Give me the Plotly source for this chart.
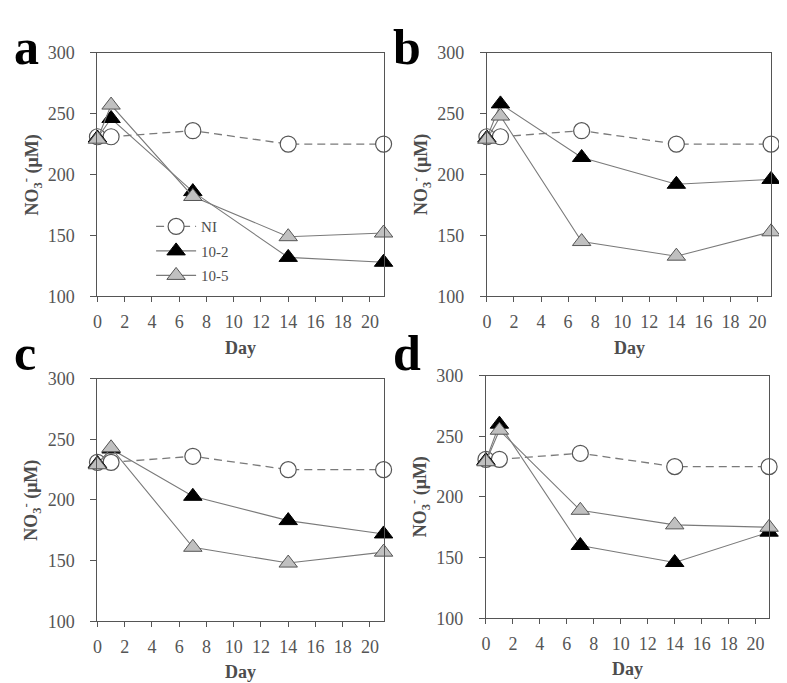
import plotly.graph_objects as go

# Page placement calibration (page px -> figure px), measured from previous renders.
X_OFF = 11
Y_OFF = 18.4
Y_SCALE = 0.968
W, H = 775, 684

days = [0, 1, 7, 14, 21]
series_names = ["NI", "10-2", "10-5"]

ni_a = [231, 231, 236, 225, 225]
r2_a = [230, 246, 186, 132, 128]
r5_a = [229, 257, 182, 149, 152]

ni_b = [231, 231, 236, 225, 225]
r2_b = [230, 258, 214, 192, 196]
r5_b = [229, 248, 145, 133, 153]

ni_c = [231, 231, 236, 225, 225]
r2_c = [230, 242, 203, 183, 172]
r5_c = [229, 243, 161, 148, 157]

ni_d = [231, 231, 236, 225, 225]
r2_d = [230, 260, 160, 146, 171]
r5_d = [229, 255, 189, 177, 175]

panel_letters = ["a", "b", "c", "d"]
x_ticks = list(range(0, 21, 2))
y_ticks = [100, 150, 200, 250, 300]

panels = [
    (ni_a, r2_a, r5_a),
    (ni_b, r2_b, r5_b),
    (ni_c, r2_c, r5_c),
    (ni_d, r2_d, r5_d),
]

# target pixel boxes on the page (left, right, top, bottom)
boxes = [
    (96, 384, 53, 296),
    (488, 774, 53, 296),
    (96, 384, 378, 620),
    (487, 772, 375, 617),
]


def px(x):
    return (x - X_OFF) / W


def py(y):
    return 1 - ((y - Y_OFF) / Y_SCALE) / H


FONT = "Liberation Serif"
LINE = "#7a7a7a"
EDGE = "#555555"

fig = go.Figure()

for i, (ni, r2, r5) in enumerate(panels):
    xa = "x" if i == 0 else f"x{i+1}"
    ya = "y" if i == 0 else f"y{i+1}"
    show = i == 0
    fig.add_trace(go.Scatter(
        x=days, y=ni, mode="lines+markers", name=series_names[0],
        legendgroup="ni", showlegend=show, cliponaxis=False,
        line=dict(color=LINE, width=1.3, dash="8px,5px"),
        marker=dict(symbol="circle", size=16, color="white",
                    line=dict(color=EDGE, width=1.2)),
        xaxis=xa, yaxis=ya))
    fig.add_trace(go.Scatter(
        x=days, y=r2, mode="lines+markers", name=series_names[1],
        legendgroup="r2", showlegend=show, cliponaxis=False,
        line=dict(color=LINE, width=1.1),
        marker=dict(symbol="triangle-up", size=16, color="black",
                    line=dict(color="black", width=1)),
        xaxis=xa, yaxis=ya))
    fig.add_trace(go.Scatter(
        x=days, y=r5, mode="lines+markers", name=series_names[2],
        legendgroup="r5", showlegend=show, cliponaxis=False,
        line=dict(color=LINE, width=1.1),
        marker=dict(symbol="triangle-up", size=16, color="#c0c0c0",
                    line=dict(color=EDGE, width=1)),
        xaxis=xa, yaxis=ya))

layout = dict(
    width=W, height=H,
    margin=dict(l=0, r=0, t=0, b=0),
    paper_bgcolor="white", plot_bgcolor="white",
    font=dict(family=FONT, color="#4d4d4d"),
    legend=dict(x=px(150), y=py(210), xanchor="left", yanchor="top",
                font=dict(family=FONT, size=15, color="#4d4d4d"),
                bgcolor="rgba(0,0,0,0)", traceorder="grouped",
                tracegroupgap=2, itemwidth=40),
    showlegend=True,
)

annotations = []
for i, (l, r, t, b) in enumerate(boxes):
    sx = "" if i == 0 else str(i + 1)
    layout[f"xaxis{sx}"] = dict(
        domain=[px(l), px(r)], range=[0, 21], anchor=f"y{sx}",
        tickmode="array", tickvals=x_ticks,
        ticks="outside", ticklen=5, tickcolor=EDGE, tickwidth=1,
        showline=True, linecolor=EDGE, linewidth=1, mirror=True,
        showgrid=False, zeroline=False, ticklabelstandoff=4,
        tickfont=dict(family=FONT, size=18, color="#555555"),
    )
    layout[f"yaxis{sx}"] = dict(
        domain=[py(b), py(t)], range=[100, 300], anchor=f"x{sx}",
        tickmode="array", tickvals=y_ticks,
        ticks="outside", ticklen=6, tickcolor=EDGE, tickwidth=1,
        showline=True, linecolor=EDGE, linewidth=1, mirror=True,
        showgrid=False, zeroline=False, ticklabelstandoff=12,
        tickfont=dict(family=FONT, size=18, color="#555555"),
    )
    annotations.append(dict(
        text="<b>NO<sub>3</sub><sup>-</sup> (μM)</b>", textangle=-90,
        x=px(l - 66), y=py((t + b) / 2), xref="paper", yref="paper",
        xanchor="center", yanchor="middle", showarrow=False,
        font=dict(family=FONT, size=18, color="#4d4d4d")))
    annotations.append(dict(
        text="<b>Day</b>",
        x=px((l + r) / 2), y=py(b + 51), xref="paper", yref="paper",
        xanchor="center", yanchor="middle", showarrow=False,
        font=dict(family=FONT, size=18, color="#4d4d4d")))

# panel letters: anchored inside the figure so they are not cut off
letter_pos = [(0.0, 1.0, "top"), (px(392), 1.0, "top"),
              (0.0, py(352), "middle"), (px(392), py(352), "middle")]
for letter, (lx, ly, ya) in zip(panel_letters, letter_pos):
    annotations.append(dict(
        text=f"<b>{letter}</b>", x=lx, y=ly,
        xref="paper", yref="paper", xanchor="left", yanchor=ya,
        showarrow=False, borderpad=0,
        font=dict(family=FONT, size=50, color="black")))

layout["annotations"] = annotations
fig.update_layout(**layout)
fig.write_html("out.html")
